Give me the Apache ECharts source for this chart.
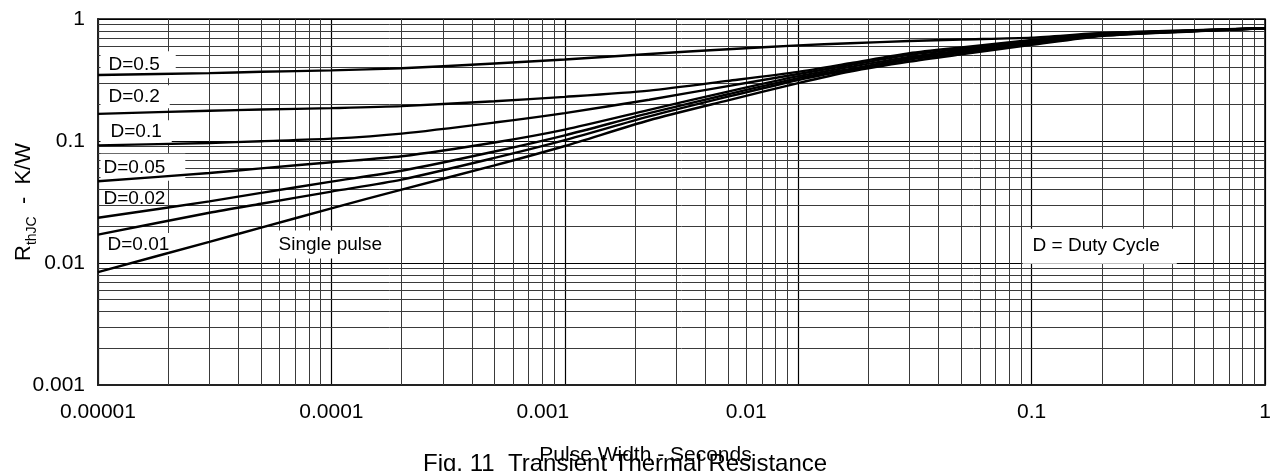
<!DOCTYPE html>
<html><head><meta charset="utf-8">
<script src="https://cdn.jsdelivr.net/npm/echarts@6/dist/echarts.min.js"></script>
<style>html,body{margin:0;padding:0;background:#fff}#c{width:1276px;height:471px}</style>
</head><body><div id="c"></div>
<script>
// ---- data ----
const pulseWidth = [1e-5, 3e-5, 5e-5, 1e-4, 2e-4, 5e-4, 1e-3, 2.3e-3, 5e-3, 1e-2, 0.0167, 0.03, 0.05, 0.1, 0.2, 0.5, 1];
const rthD050 = [0.348, 0.360, 0.369, 0.379, 0.395, 0.432, 0.466, 0.517, 0.565, 0.608, 0.633, 0.660, 0.679, 0.703, 0.768, 0.809, 0.84];
const rthD020 = [0.167, 0.177, 0.181, 0.186, 0.193, 0.212, 0.230, 0.259, 0.311, 0.369, 0.434, 0.524, 0.585, 0.673, 0.761, 0.807, 0.84];
const rthD010 = [0.092, 0.0963, 0.0996, 0.1045, 0.115, 0.1417, 0.1694, 0.218, 0.282, 0.354, 0.420, 0.508, 0.568, 0.661, 0.751, 0.804, 0.84];
const rthD005 = [0.0468, 0.0547, 0.0597, 0.067, 0.075, 0.0972, 0.124, 0.180, 0.254, 0.340, 0.405, 0.489, 0.550, 0.643, 0.743, 0.801, 0.84];
const rthD002 = [0.0235, 0.032, 0.0376, 0.0464, 0.057, 0.082, 0.1113, 0.169, 0.2417, 0.3275, 0.390, 0.475, 0.537, 0.630, 0.736, 0.798, 0.84];
const rthD001 = [0.0171, 0.0258, 0.0306, 0.0385, 0.0483, 0.0727, 0.1017, 0.159, 0.2307, 0.3165, 0.383, 0.466, 0.529, 0.625, 0.731, 0.796, 0.84];
const rthSingle = [0.00843, 0.0149, 0.0195, 0.028, 0.040, 0.0631, 0.091, 0.148, 0.2153, 0.298, 0.371, 0.448, 0.513, 0.613, 0.726, 0.793, 0.84];
const seriesNames = ['D=0.5', 'D=0.2', 'D=0.1', 'D=0.05', 'D=0.02', 'D=0.01', 'Single pulse'];
const xTickLabels = ['0.00001', '0.0001', '0.001', '0.01', '0.1', '1'];
const yTickLabels = ['0.001', '0.01', '0.1', '1'];
const titleText = 'Fig. 11  Transient Thermal Resistance';
const xName = 'Pulse Width - Seconds';

// ---- layout / style ----
const FONT = 'Liberation Sans, Arial, sans-serif';
const curves = [rthD050, rthD020, rthD010, rthD005, rthD002, rthD001, rthSingle];
const xLabelNudge = [0, 0, 44, 104, 0, 0]; // right padding => text shifts left by half
const minorX = [], minorY = [];
for (let e = -5; e < 0; e++) for (let m = 2; m <= 9; m++) minorX.push(+(m * Math.pow(10, e)).toPrecision(3));
for (let e = -3; e < 0; e++) for (let m = 2; m <= 9; m++) minorY.push(+(m * Math.pow(10, e)).toPrecision(3));

const xRich = {};
xLabelNudge.forEach((p, i) => { xRich['n' + i] = {fontSize: 21, fontFamily: FONT, color: '#000', padding: [0, p, 0, 0]}; });

const lbl = (text, coord, pad, bg) => ({
  coord: coord,
  value: text,
  label: {show: true, formatter: text, position: 'right', distance: 0, fontSize: 19, fontFamily: FONT,
          color: '#000', backgroundColor: bg ? '#fff' : 'transparent', padding: pad}
});

const series = curves.map((vals, i) => ({
  type: 'line', name: seriesNames[i],
  data: pulseWidth.map((t, j) => [t, vals[j]]),
  symbol: 'none', showSymbol: false, smooth: 0.25,
  lineStyle: {color: '#000', width: 2.4}, z: 3, silent: true, animation: false
}));

series[0].markLine = {
  z: 1, silent: true, symbol: ['none', 'none'], animation: false, precision: 10,
  label: {show: false},
  lineStyle: {type: 'solid', color: '#3a3a3a', width: 1},
  emphasis: {disabled: true},
  data: minorX.map(v => ({xAxis: v})).concat(minorY.map(v => ({yAxis: v})))
};
series[0].markPoint = {
  z: 2, silent: true, animation: false, symbol: 'circle', symbolSize: 1,
  itemStyle: {color: 'rgba(0,0,0,0)'},
  data: [
    lbl('D=0.5', [1.02e-5, 0.421], [4, 16, 4, 8], true),
    lbl('D=0.2', [1.02e-5, 0.230], [2, 10, 2, 8], true),
    lbl('D=0.1', [1.02e-5, 0.119], [2, 10, 2, 10], true),
    lbl('D=0.05', [1.02e-5, 0.0608], [4, 20, 4, 3], true),
    lbl('D=0.02', [1.02e-5, 0.0336], [2, 4, 2, 3], false),
    lbl('D=0.01', [1.02e-5, 0.0142], [2, 6, 2, 7], true),
    lbl('Single pulse', [5.57e-5, 0.0142], [5, 8, 4, 6], true),
    lbl('D = Duty Cycle', [0.091, 0.01375], [8, 17, 8, 10], true)
  ]
};

const chart = echarts.init(document.getElementById('c'), null, {renderer: 'canvas'});
chart.setOption({
  animation: false,
  backgroundColor: '#fff',
  title: {text: titleText, left: 418, top: 447, padding: 5,
          textStyle: {fontSize: 24, fontWeight: 'normal', fontFamily: FONT, color: '#000'}},
  grid: {left: 98, right: 11, top: 19, bottom: 86, show: true, borderColor: '#000', borderWidth: 1.5,
         backgroundColor: 'transparent', containLabel: false, outerBoundsMode: 'none'},
  xAxis: {
    type: 'log', logBase: 10, min: 1e-5, max: 1,
    name: xName, nameLocation: 'middle', nameGap: 60, nameMoveOverlap: false,
    nameTextStyle: {fontSize: 21, fontFamily: FONT, color: '#000', padding: [0, 72, 0, 0]},
    axisLine: {show: true, lineStyle: {color: '#222', width: 2}},
    axisTick: {show: false},
    splitLine: {show: true, lineStyle: {color: '#000', width: 1.2}},
    axisLabel: {margin: 17, fontSize: 21, fontFamily: FONT, color: '#000',
      formatter: v => { const i = Math.round(Math.log10(v)) + 5; return '{n' + i + '|' + xTickLabels[i] + '}'; },
      rich: xRich}
  },
  yAxis: {
    type: 'log', logBase: 10, min: 1e-3, max: 1,
    name: '{r|R}{s|thJC}{r|  -  K/W}', nameLocation: 'middle', nameGap: 59, nameMoveOverlap: false,
    nameTextStyle: {fontFamily: FONT, color: '#000',
      rich: {r: {fontSize: 22, fontFamily: FONT, color: '#000', lineHeight: 30, verticalAlign: 'middle'},
             s: {fontSize: 14, fontFamily: FONT, color: '#000', lineHeight: 30, verticalAlign: 'bottom'}}},
    axisLine: {show: true, lineStyle: {color: '#222', width: 2}},
    axisTick: {show: false},
    splitLine: {show: true, lineStyle: {color: '#000', width: 1.2}},
    axisLabel: {margin: 13, fontSize: 21, fontFamily: FONT, color: '#000',
      formatter: v => yTickLabels[Math.round(Math.log10(v)) + 3]}
  },
  series: series
});
</script>
</body></html>
